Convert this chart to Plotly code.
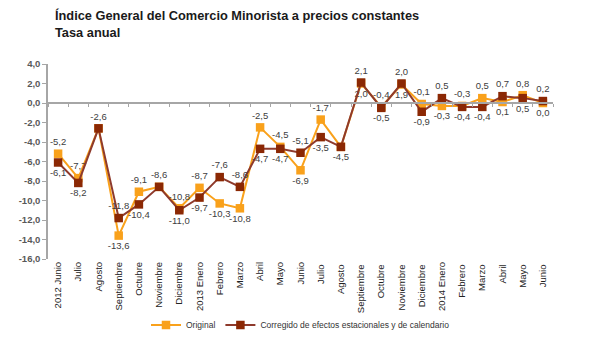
import plotly.graph_objects as go

categories = ["2012 Junio", "Julio", "Agosto", "Septiembre", "Octubre", "Noviembre",
              "Diciembre", "2013 Enero", "Febrero", "Marzo", "Abril", "Mayo", "Junio",
              "Julio ", "Agosto ", "Septiembre ", "Octubre ", "Noviembre ", "Diciembre ",
              "2014 Enero", "Febrero ", "Marzo ", "Abril ", "Mayo ", "Junio "]

original = [-5.2, -7.7, -2.6, -13.6, -9.1, -8.6, -10.8, -8.7, -10.3, -10.8, -2.5, -4.5, -6.9,
            -1.7, -4.5, 2.0, -0.4, 1.9, -0.1, -0.3, -0.3, 0.5, 0.1, 0.8, 0.0]
corregido = [-6.1, -8.2, -2.6, -11.8, -10.4, -8.6, -11.0, -9.7, -7.6, -8.6, -4.7, -4.7, -5.1,
             -3.5, -4.5, 2.1, -0.5, 2.0, -0.9, 0.5, -0.4, -0.4, 0.7, 0.5, 0.2]

# label placement: T = above, B = below, N = no label (shared with the other series)
orig_pos = ["T", "T", "T", "B", "T", "T", "T", "T", "B", "B", "T", "T", "B",
            "T", "N", "B", "T", "B", "T", "B", "T", "T", "B", "T", "B"]
corr_pos = ["B", "B", "N", "T", "B", "N", "B", "B", "T", "T", "B", "B", "T",
            "B", "B", "T", "B", "T", "B", "T", "B", "B", "T", "B", "T"]

y_ticks = [4, 2, 0, -2, -4, -6, -8, -10, -12, -14, -16]

title_lines = ["Índice General del Comercio Minorista a precios constantes", "Tasa anual"]


def fmt(v):
    return f"{v:.1f}".replace(".", ",")


def labels(vals, pos):
    return [fmt(v) if p != "N" else "" for v, p in zip(vals, pos)]


def positions(pos):
    return ["bottom center" if p == "B" else "top center" for p in pos]


ORANGE = "#F9A11B"
DARK_M = "#8B2804"
DARK_L = "#8E3A2C"
FONT = "Liberation Sans, Arial"

fig = go.Figure()
fig.add_trace(go.Scatter(
    x=categories, y=original, name="Original", mode="lines+markers+text",
    line=dict(color=ORANGE, width=2),
    marker=dict(symbol="square", size=8.5, color=ORANGE),
    text=labels(original, orig_pos), textposition=positions(orig_pos),
    textfont=dict(family=FONT, size=9.5, color="#404040"),
))
fig.add_trace(go.Scatter(
    x=categories, y=corregido, name="Corregido de efectos estacionales y de calendario",
    mode="lines+markers+text",
    line=dict(color=DARK_L, width=2),
    marker=dict(symbol="square", size=8.5, color=DARK_M),
    text=labels(corregido, corr_pos), textposition=positions(corr_pos),
    textfont=dict(family=FONT, size=9.5, color="#404040"),
))
# invisible helper trace for the category axis drawn along zero
fig.add_trace(go.Scatter(
    x=categories, y=original, xaxis="x2", yaxis="y", mode="markers",
    marker=dict(opacity=0), showlegend=False, hoverinfo="skip",
))

fig.add_annotation(
    text="<b>" + "<br>".join(title_lines) + "</b>",
    xref="paper", yref="paper", x=(53 - 48) / 505, y=(259 - 6) / 195,
    xanchor="left", yanchor="top", align="left", showarrow=False,
    font=dict(size=12.8, color="#1a1a1a", family=FONT),
)

fig.update_layout(
    width=589, height=340,
    margin=dict(l=48, r=36, t=64, b=81, autoexpand=False),
    paper_bgcolor="white", plot_bgcolor="white",
    font=dict(family=FONT, color="#333333"),
    xaxis=dict(
        type="category", categoryarray=categories, range=[-0.5, 24.5],
        showline=False, showgrid=False, zeroline=False, ticks="",
        tickangle=-90, tickfont=dict(size=9.5, color="#222222"), automargin=False,
    ),
    xaxis2=dict(
        type="category", categoryarray=categories, range=[-0.5, 24.5],
        overlaying="x", anchor="free", position=0.8, side="bottom",
        showline=True, linecolor="#A6A6A6", linewidth=1.5,
        ticks="outside", tickson="boundaries", ticklen=3, tickcolor="#A6A6A6",
        showticklabels=False, showgrid=False, zeroline=False, automargin=False,
    ),
    yaxis=dict(
        range=[-16, 4], tickvals=y_ticks, ticktext=[f"<b>{fmt(v)}</b>" for v in y_ticks],
        showline=True, linecolor="#A6A6A6", linewidth=1.5,
        ticks="outside", ticklen=4, tickcolor="#A6A6A6",
        showgrid=False, zeroline=False, automargin=False,
        tickfont=dict(size=9.5, color="#595959"),
    ),
    legend=dict(
        orientation="h", x=0.5, xanchor="center", y=-0.338, yanchor="middle",
        font=dict(size=8.5, color="#333333"), itemwidth=30,
        bgcolor="rgba(0,0,0,0)",
    ),
)

fig.write_html("out.html")
